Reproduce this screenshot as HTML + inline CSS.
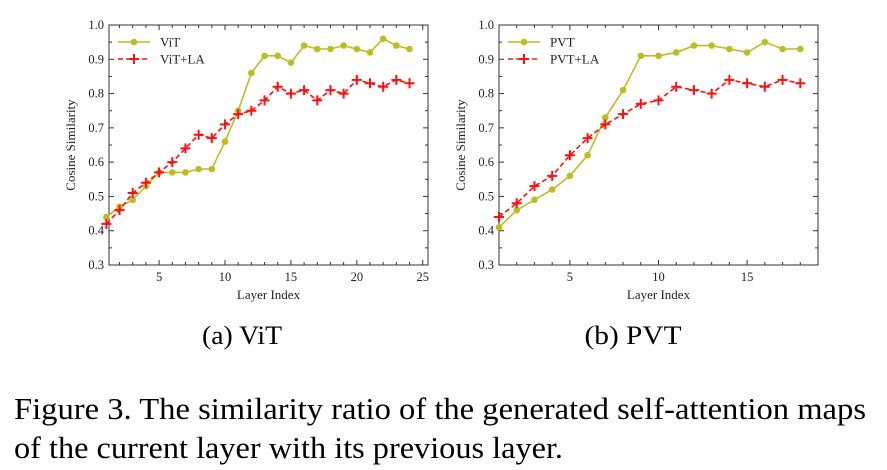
<!DOCTYPE html>
<html><head><meta charset="utf-8"><style>
html,body{margin:0;padding:0;background:#fff;}
svg{display:block;font-family:"Liberation Serif",serif;}
</style></head><body>
<svg id="fig" width="887" height="470" viewBox="0 0 887 470">
<text x="242" y="344" font-size="26" text-anchor="middle" textLength="80" lengthAdjust="spacingAndGlyphs">(a) ViT</text>
<text x="633" y="344" font-size="26" text-anchor="middle" textLength="97" lengthAdjust="spacingAndGlyphs">(b) PVT</text>
<text x="14" y="419" font-size="31" textLength="852" lengthAdjust="spacingAndGlyphs">Figure 3. The similarity ratio of the generated self-attention maps</text>
<text x="14" y="458" font-size="31" textLength="549" lengthAdjust="spacingAndGlyphs">of the current layer with its previous layer.</text>
</svg>
<script>
const vitValues=[0.44,0.47,0.49,0.53,0.57,0.57,0.57,0.58,0.58,0.66,0.75,0.86,0.91,0.91,0.89,0.94,0.93,0.93,0.94,0.93,0.92,0.96,0.94,0.93];
const vitLaValues=[0.42,0.46,0.51,0.54,0.57,0.60,0.64,0.68,0.67,0.71,0.74,0.75,0.78,0.82,0.80,0.81,0.78,0.81,0.80,0.84,0.83,0.82,0.84,0.83];
const pvtValues=[0.41,0.46,0.49,0.52,0.56,0.62,0.73,0.81,0.91,0.91,0.92,0.94,0.94,0.93,0.92,0.95,0.93,0.93];
const pvtLaValues=[0.44,0.48,0.53,0.56,0.62,0.67,0.71,0.74,0.77,0.78,0.82,0.81,0.80,0.84,0.83,0.82,0.84,0.83];
const yTicks=[0.3,0.4,0.5,0.6,0.7,0.8,0.9,1.0];
const vitXTicks=[5,10,15,20,25];
const pvtXTicks=[5,10,15];
const vitLegend=["ViT","ViT+LA"];
const pvtLegend=["PVT","PVT+LA"];

const NS="http://www.w3.org/2000/svg";
const svg=document.getElementById('fig');
function mk(tag,attrs,parent){const e=document.createElementNS(NS,tag);for(const k in attrs)e.setAttribute(k,attrs[k]);(parent||svg).appendChild(e);return e;}
const OLIVE="#bcbd22",RED="#ff1010";

function chart(prefix,L,R,xmin,xmax,xticks,s1,s2,leg){
  const T=25,B=265;
  const g=mk('g',{});
  
  
  const X=v=>L+(v-xmin)/(xmax-xmin)*(R-L);
  const Y=v=>B-(v-0.3)/0.7*(B-T);
  const box=mk('rect',{x:L,y:T,width:R-L,height:B-T,fill:'none',stroke:'#333','stroke-width':1},g);
  
  
  yTicks.forEach(t=>{
    const y=Y(t);
    mk('line',{x1:L,x2:L+5,y1:y,y2:y,stroke:'#333'},g);
    mk('line',{x1:R,x2:R-5,y1:y,y2:y,stroke:'#333'},g);
    if(t<1){const ym=Y(t+0.05);mk('line',{x1:L,x2:L+3,y1:ym,y2:ym,stroke:'#333'},g);mk('line',{x1:R,x2:R-3,y1:ym,y2:ym,stroke:'#333'},g);}
    const tx=mk('text',{x:L-5,y:y+4,'font-size':12.5,'text-anchor':'end',fill:'#222'},g);
    tx.textContent=t.toFixed(1);
    
    
  });
  for(let m=Math.ceil(xmin);m<=xmax;m++){
    const x=X(m);const major=m%5===0;
    mk('line',{x1:x,x2:x,y1:B,y2:B-(major?5:3),stroke:'#333'},g);
    mk('line',{x1:x,x2:x,y1:T,y2:T+(major?5:3),stroke:'#333'},g);
  }
  xticks.forEach(t=>{
    const tx=mk('text',{x:X(t),y:B+16,'font-size':12.5,'text-anchor':'middle',fill:'#222'},g);
    tx.textContent=t;
    
    
  });
  const xt=mk('text',{x:(L+R)/2,y:B+34,'font-size':13,'text-anchor':'middle',fill:'#222'},g);
  xt.textContent='Layer Index';
  
  
  const yt=mk('text',{x:0,y:0,'font-size':13,'text-anchor':'middle',fill:'#222',transform:`translate(${L-34},${(T+B)/2}) rotate(-90)`},g);
  yt.textContent='Cosine Similarity';
  
  
  const p1=s1.map((v,i)=>X(i+1)+','+Y(v)).join(' ');
  const l1=mk('polyline',{points:p1,fill:'none',stroke:OLIVE,'stroke-width':1.6},g);
  
  
  s1.forEach((v,i)=>{const c=mk('circle',{cx:X(i+1),cy:Y(v),r:3.3,fill:OLIVE},g);
    
    });
  const p2=s2.map((v,i)=>X(i+1)+','+Y(v)).join(' ');
  const l2=mk('polyline',{points:p2,fill:'none',stroke:RED,'stroke-width':1.6,'stroke-dasharray':'5,3'},g);
  
  
  s2.forEach((v,i)=>{const x=X(i+1),y=Y(v);
    const pl=mk('path',{d:`M${x-5},${y}H${x+5}M${x},${y-5}V${y+5}`,stroke:RED,'stroke-width':2},g);
    
    });
  const lx=L+9,ly1=42,ly2=59;
  mk('line',{x1:lx,x2:lx+32,y1:ly1,y2:ly1,stroke:OLIVE,'stroke-width':1.6},g);
  mk('circle',{cx:lx+16,cy:ly1,r:3.3,fill:OLIVE},g);
  const lt1=mk('text',{x:lx+42,y:ly1+4.5,'font-size':13,fill:'#222'},g);lt1.textContent=leg[0];
  
  
  mk('line',{x1:lx,x2:lx+32,y1:ly2,y2:ly2,stroke:RED,'stroke-width':1.6,'stroke-dasharray':'5,3'},g);
  mk('path',{d:`M${lx+11},${ly2}H${lx+21}M${lx+16},${ly2-5}V${ly2+5}`,stroke:RED,'stroke-width':2},g);
  const lt2=mk('text',{x:lx+42,y:ly2+4.5,'font-size':13,fill:'#222'},g);lt2.textContent=leg[1];
  
  
}
chart('vit',109,428,1.2,25.4,vitXTicks,vitValues,vitLaValues,vitLegend);
chart('pvt',499,818,1,19,pvtXTicks,pvtValues,pvtLaValues,pvtLegend);
</script>
</body></html>
